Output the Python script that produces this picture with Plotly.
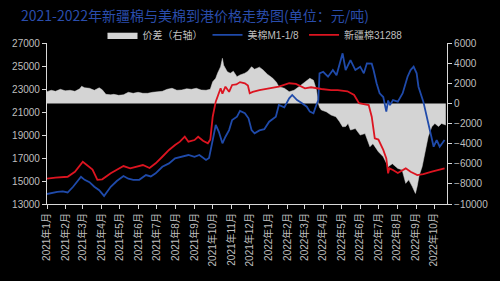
import plotly.graph_objects as go

# 新疆棉31288 (元/吨, 左轴)
red_dates = ["2021-01-01","2021-01-15","2021-02-04","2021-02-16","2021-03-01","2021-03-09","2021-03-17","2021-03-25",
    "2021-04-02","2021-04-16","2021-04-26","2021-05-07","2021-05-18","2021-05-28","2021-06-08","2021-06-19","2021-06-29",
    "2021-07-10","2021-07-21","2021-07-31","2021-08-08","2021-08-16","2021-08-22","2021-09-01","2021-09-07","2021-09-15",
    "2021-09-23","2021-09-27","2021-10-01","2021-10-06","2021-10-10","2021-10-14","2021-10-17","2021-10-22","2021-10-28",
    "2021-11-02","2021-11-09","2021-11-15","2021-11-23","2021-11-28","2021-12-01","2021-12-06","2021-12-17","2022-01-02",
    "2022-01-18","2022-02-04","2022-02-15","2022-03-02","2022-03-12","2022-03-29","2022-04-14","2022-04-25","2022-05-11",
    "2022-05-22","2022-05-30","2022-06-15","2022-06-20","2022-06-25","2022-07-01","2022-07-09","2022-07-14","2022-07-17",
    "2022-07-19","2022-07-25","2022-08-02","2022-08-15","2022-08-23","2022-09-03","2022-09-13","2022-09-27","2022-10-10",
    "2022-10-18"]
red_vals = [15200,15300,15370,15800,16680,16300,16000,15100,
    15150,15670,16000,16300,16100,16250,16390,16130,16540,
    17110,17700,18130,18420,18850,18420,18560,18850,18500,
    18280,18600,20590,21900,22480,23060,22600,23200,22760,
    23350,23400,23600,23500,23300,22630,22750,22910,23050,
    23200,23500,23450,23060,23150,23000,22900,22910,22800,
    22480,21760,21610,20590,18710,18600,17700,16970,15670,
    16100,15960,15700,16100,15800,15520,15600,15810,15950,
    16100]

# 美棉M1-1/8 (元/吨, 左轴)
blue_dates = ["2021-01-01","2021-01-08","2021-01-18","2021-01-27","2021-02-04","2021-02-13","2021-02-19","2021-02-26",
    "2021-03-04","2021-03-12","2021-03-20","2021-03-28","2021-04-05","2021-04-11","2021-04-16","2021-04-26","2021-05-07",
    "2021-05-15","2021-05-23","2021-06-02","2021-06-13","2021-06-21","2021-06-29","2021-07-10","2021-07-21","2021-07-31",
    "2021-08-11","2021-08-22","2021-09-01","2021-09-09","2021-09-20","2021-09-25","2021-10-01","2021-10-06","2021-10-11",
    "2021-10-17","2021-10-22","2021-10-28","2021-11-02","2021-11-10","2021-11-15","2021-11-23","2021-11-29","2021-12-04",
    "2021-12-09","2021-12-17","2021-12-25","2022-01-02","2022-01-13","2022-01-18","2022-01-27","2022-02-04","2022-02-09",
    "2022-02-17","2022-02-24","2022-03-05","2022-03-10","2022-03-16","2022-03-20","2022-03-24","2022-03-26","2022-04-01",
    "2022-04-09","2022-04-17","2022-04-23","2022-04-30","2022-05-03","2022-05-08","2022-05-16","2022-05-24","2022-06-01",
    "2022-06-07","2022-06-12","2022-06-20","2022-06-23","2022-06-28","2022-07-03","2022-07-09","2022-07-14","2022-07-17",
    "2022-07-20","2022-07-25","2022-08-02","2022-08-10","2022-08-18","2022-08-23","2022-08-28","2022-09-02","2022-09-05",
    "2022-09-13","2022-09-19","2022-09-24","2022-09-30","2022-10-05","2022-10-10","2022-10-18"]
blue_vals = [13870,13950,14050,14100,14000,14500,14900,15370,
    15100,14900,14500,14200,13700,14100,14500,15000,15430,
    15200,15090,15100,15520,15400,15670,16240,16530,16970,
    17110,17260,17100,17260,16830,17000,18560,19870,19300,
    18280,18850,19430,20300,20590,21100,20900,20450,19430,
    19150,19400,19500,20160,20590,21610,21400,22190,22480,
    22040,21800,21460,21030,20890,21500,22040,24360,24500,
    24070,24650,24200,25520,26100,24650,25520,24650,24940,
    24360,25230,25200,24650,23500,22630,22300,21030,22000,
    21600,22040,21900,22630,24070,24650,24940,24360,23200,
    21900,20590,19430,17980,18560,17980,18560]

# 价差 (元/吨, 右轴)
spread_dates = ["2021-01-01","2021-01-08","2021-01-15","2021-01-23","2021-01-31","2021-02-08","2021-02-16","2021-02-24",
    "2021-02-27","2021-03-04","2021-03-12","2021-03-20","2021-03-28","2021-04-02","2021-04-08","2021-04-16","2021-04-21",
    "2021-04-29","2021-05-07","2021-05-15","2021-05-23","2021-05-31","2021-06-08","2021-06-16","2021-06-24","2021-07-02",
    "2021-07-10","2021-07-18","2021-07-26","2021-08-03","2021-08-11","2021-08-19","2021-08-27","2021-09-04","2021-09-12",
    "2021-09-20","2021-09-27","2021-10-01","2021-10-06","2021-10-09","2021-10-14","2021-10-17","2021-10-19","2021-10-25",
    "2021-10-30","2021-11-04","2021-11-10","2021-11-15","2021-11-23","2021-11-28","2021-12-04","2021-12-09","2021-12-17",
    "2021-12-23","2021-12-30","2022-01-08","2022-01-14","2022-01-18","2022-01-27","2022-02-04","2022-02-12","2022-02-20",
    "2022-03-02","2022-03-10","2022-03-16","2022-03-21","2022-03-24","2022-03-26","2022-03-29","2022-04-06","2022-04-14",
    "2022-04-22","2022-04-28","2022-05-03","2022-05-08","2022-05-12","2022-05-16","2022-05-24","2022-06-01","2022-06-09",
    "2022-06-17","2022-06-22","2022-07-01","2022-07-09","2022-07-17","2022-07-24","2022-08-02","2022-08-09","2022-08-15",
    "2022-08-20","2022-08-26","2022-08-31","2022-09-03","2022-09-06","2022-09-11","2022-09-16","2022-09-21","2022-09-27",
    "2022-10-02","2022-10-08","2022-10-13","2022-10-20"]
spread_vals = [1160,1300,1200,1400,1250,1300,1200,1450,
    1700,1550,1500,1300,1550,1350,900,850,900,
    800,850,1100,1000,1100,1000,1000,1100,1160,
    1200,1400,1500,1300,1330,1450,1400,1500,1330,
    1300,1400,2150,2500,2990,3640,4480,3800,3150,
    3000,3200,2650,2820,3000,3200,3640,3400,3600,
    3320,2900,2490,2100,1660,1500,1160,1300,1660,
    2150,2490,2300,1330,0,-400,-660,-830,-1160,
    -1330,-1820,-2320,-2300,-2000,-2650,-2500,-3150,-3000,
    -4310,-4000,-4810,-5300,-6300,-6000,-6470,-6600,-7950,
    -7600,-8290,-8950,-8200,-7200,-6300,-4960,-3310,-2320,
    -1990,-2300,-2000,-2150]

TITLE = "2021-2022年新疆棉与美棉到港价格走势图(单位：元/吨)"
FONT = "Liberation Sans, Noto Sans CJK SC, sans-serif"
AX = "#d9d9d9"
TXT = "#bfbfbf"

fig = go.Figure()
fig.add_trace(go.Scatter(x=spread_dates, y=spread_vals, name="价差（右轴）", mode="lines",
                         line=dict(color="#d4d4d4", width=0.5), fill="tozeroy",
                         fillcolor="#d4d4d4", yaxis="y"))
fig.add_trace(go.Scatter(x=blue_dates, y=blue_vals, name="美棉M1-1/8", mode="lines",
                         line=dict(color="#1f4aaa", width=1.8), yaxis="y2"))
fig.add_trace(go.Scatter(x=red_dates, y=red_vals, name="新疆棉31288", mode="lines",
                         line=dict(color="#dc1420", width=1.8), yaxis="y2"))

fig.update_layout(
    width=500, height=281,
    margin=dict(l=41, r=48, t=43, b=77),
    paper_bgcolor="black", plot_bgcolor="black",
    font=dict(family=FONT, size=10, color=TXT),
    showlegend=True,
    legend=dict(orientation="h", x=0.52, xanchor="center", y=1.05, yanchor="middle",
                font=dict(size=10, color=TXT), bgcolor="rgba(0,0,0,0)", itemwidth=30),
    xaxis=dict(type="date", range=["2021-01-01", "2022-10-22"], tick0="2021-01-01", dtick="M1",
               tickformat="%Y年%-m月", tickangle=-90, showline=True, linecolor=AX, linewidth=1.2,
               ticks="outside", ticklen=4, tickcolor=AX, showgrid=False, zeroline=False,
               tickfont=dict(size=10, color=TXT)),
    yaxis=dict(side="right", range=[-10000, 6000], tick0=-10000, dtick=2000, tickformat="d", showline=True,
               linecolor=AX, linewidth=1.2, ticks="outside", ticklen=4, tickcolor=AX,
               showgrid=False, zeroline=False, tickfont=dict(size=10, color=TXT)),
    yaxis2=dict(side="left", overlaying="y", range=[13000, 27000], tick0=13000, dtick=2000, tickformat="d",
                showline=True, linecolor=AX, linewidth=1.2, ticks="outside", ticklen=4, tickcolor=AX,
                showgrid=False, zeroline=False, tickfont=dict(size=10, color=TXT)),
    annotations=[dict(text=TITLE, xref="paper", yref="paper", x=-0.07, y=1.0, yanchor="top",
                      xanchor="left", showarrow=False, yshift=40,
                      font=dict(family="Noto Sans CJK SC", size=14, color="#2a4dac"))],
)

fig.write_html("out.html")
